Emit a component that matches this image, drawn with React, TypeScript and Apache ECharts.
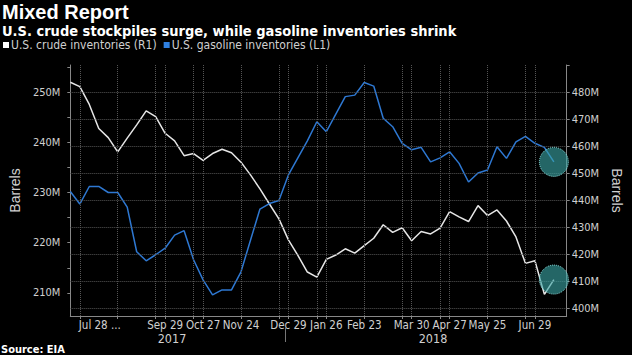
import React, { useEffect, useRef } from 'react';
import * as echarts from 'echarts';

// Weekly EIA report dates (Fridays)
const weeks = [
  '2017-07-21', '2017-07-28', '2017-08-04', '2017-08-11', '2017-08-18', '2017-08-25',
  '2017-09-01', '2017-09-08', '2017-09-15', '2017-09-22', '2017-09-29', '2017-10-06',
  '2017-10-13', '2017-10-20', '2017-10-27', '2017-11-03', '2017-11-10', '2017-11-17',
  '2017-11-24', '2017-12-01', '2017-12-08', '2017-12-15', '2017-12-22', '2017-12-29',
  '2018-01-05', '2018-01-12', '2018-01-19', '2018-01-26', '2018-02-02', '2018-02-09',
  '2018-02-16', '2018-02-23', '2018-03-02', '2018-03-09', '2018-03-16', '2018-03-23',
  '2018-03-30', '2018-04-06', '2018-04-13', '2018-04-20', '2018-04-27', '2018-05-04',
  '2018-05-11', '2018-05-18', '2018-05-25', '2018-06-01', '2018-06-08', '2018-06-15',
  '2018-06-22', '2018-06-29', '2018-07-06', '2018-07-13',
];

// U.S. crude inventories, million barrels (right axis, R1)
const crude = [
  483.7, 482.1, 475.5, 466.6, 463.2, 457.9, 463.0, 467.9, 473.1, 471.0,
  464.8, 462.0, 456.5, 457.3, 454.8, 457.3, 458.9, 457.6, 454.1, 449.4,
  444.2, 438.6, 433.1, 425.3, 419.6, 413.4, 411.5, 418.1, 419.7, 422.0,
  420.4, 423.2, 425.9, 430.9, 428.1, 429.8, 425.0, 428.4, 427.5, 429.7,
  435.8, 433.8, 432.1, 438.0, 434.3, 436.4, 432.3, 426.4, 416.6, 417.6,
  405.1, 410.6,
];

// U.S. gasoline inventories, million barrels (left axis, L1)
const gasoline = [
  230.2, 227.7, 231.2, 231.2, 230.0, 230.0, 227.1, 218.2, 216.4, 217.6,
  218.9, 221.5, 222.4, 216.6, 212.6, 209.6, 210.6, 210.6, 214.2, 220.5,
  226.7, 227.8, 228.4, 233.5, 236.9, 240.3, 244.1, 242.1, 245.6, 249.1,
  249.4, 251.9, 251.2, 244.8, 243.1, 239.8, 238.5, 239.0, 236.1, 236.9,
  238.1, 235.8, 232.1, 233.9, 234.5, 239.1, 236.8, 240.1, 241.2, 239.8,
  239.0, 236.1,
];

// X-axis tick labels
const tickDates = ['2017-07-28', '2017-09-29', '2017-10-27', '2017-11-24', '2017-12-29',
  '2018-01-26', '2018-02-23', '2018-03-30', '2018-04-27', '2018-05-25', '2018-06-29'];
const tickLabels = ['Jul 28 ...', 'Sep 29', 'Oct 27', 'Nov 24', 'Dec 29',
  'Jan 26', 'Feb 23', 'Mar 30', 'Apr 27', 'May 25', 'Jun 29'];

// Vertical grid line dates
const gridDates = ['2017-07-28', '2017-08-25', '2017-09-22', '2017-09-29', '2017-10-20',
  '2017-10-27', '2017-11-24', '2017-12-22', '2017-12-29', '2018-01-19', '2018-01-26',
  '2018-02-23', '2018-03-23', '2018-03-30', '2018-04-20', '2018-04-27', '2018-05-25',
  '2018-06-22', '2018-06-29'];

const leftTicks = [210, 220, 230, 240, 250];
const leftMinorTicks = [210, 215, 220, 225, 230, 235, 240, 245, 250, 255];
const rightTicks = [400, 410, 420, 430, 440, 450, 460, 470, 480];
const rightTickMarks = [400, 410, 420, 430, 440, 450, 460, 470, 480, 490];

const NARROW = "'Liberation Sans Narrow', 'Arial Narrow', 'DejaVu Sans Condensed', sans-serif";
const WIDE = "'Liberation Sans', Arial, sans-serif";

export default function App() {
  const ref = useRef<HTMLDivElement>(null);

  useEffect(() => {
    if (!ref.current) return;
    const chart = echarts.init(ref.current, undefined, { renderer: 'svg' });
    const last = weeks.length - 1;
    const tickIdx = tickDates.map((d) => weeks.indexOf(d));
    const gridIdx = gridDates.map((d) => weeks.indexOf(d));

    const circleStyle = {
      color: 'rgba(58,165,165,0.62)',
      borderColor: '#8fe3e3',
      borderType: 'dotted' as const,
      borderWidth: 1,
    };

    chart.setOption({
      animation: false,
      backgroundColor: '#000',
      title: [
        {
          text: 'Mixed Report', left: 2, top: 1, padding: 0,
          textStyle: { color: '#fff', fontSize: 20, lineHeight: 21, fontWeight: 'bold', fontFamily: WIDE },
        },
        {
          text: 'U.S. crude stockpiles surge, while gasoline inventories shrink', left: 2, top: 23, padding: 0,
          textStyle: { color: '#fff', fontSize: 14.5, lineHeight: 15, fontWeight: 'bold', fontFamily: NARROW },
        },
        {
          text: 'Source: EIA', left: 1, top: 344, padding: 0,
          textStyle: { color: '#fff', fontSize: 11, lineHeight: 11, fontWeight: 'bold', fontFamily: NARROW },
        },
      ],
      legend: {
        left: 3, top: 39, padding: 0, itemGap: 7, itemWidth: 6, itemHeight: 6,
        icon: 'rect',
        textStyle: { color: '#d0d0d0', fontSize: 12, fontFamily: NARROW, padding: [0, 0, 0, -3] },
        data: ['U.S. crude inventories (R1)', 'U.S. gasoline inventories (L1)'],
      },
      grid: { left: 49, right: 48, top: 65, bottom: 39, containLabel: false },
      xAxis: {
        type: 'value', min: 0, max: 52.35,
        axisLine: { show: true, lineStyle: { color: '#888' } },
        axisTick: { show: true, length: 3, customValues: gridIdx, lineStyle: { color: '#888' } },
        splitLine: { show: false },
        axisLabel: {
          customValues: tickIdx,
          margin: 3,
          color: '#d0d0d0', fontSize: 11.5, fontFamily: NARROW,
          formatter: (v: number) => {
            const k = tickIdx.indexOf(Math.round(v));
            if (k < 0) return '';
            return k === 0 ? `{first|${tickLabels[k]}}` : tickLabels[k];
          },
          rich: { first: { padding: [0, 0, 0, 40], color: '#d0d0d0', fontSize: 11.5, fontFamily: NARROW } },
        },
      },
      yAxis: [
        {
          type: 'value', position: 'left', min: 205.4, max: 255.4,
          name: 'Barrels', nameLocation: 'middle', nameGap: 40,
          nameTextStyle: { color: '#d0d0d0', fontSize: 14, fontFamily: WIDE },
          axisLine: { show: true, lineStyle: { color: '#888' } },
          axisTick: { show: true, length: 3, customValues: leftMinorTicks, lineStyle: { color: '#888' } },
          axisLabel: {
            customValues: leftTicks, margin: 10,
            color: '#d0d0d0', fontSize: 11, fontFamily: NARROW,
            formatter: (v: number) => `${v}M`,
          },
          splitLine: { show: false },
        },
        {
          type: 'value', position: 'right', min: 397.1, max: 490.1,
          name: 'Barrels', nameLocation: 'middle', nameGap: 42, nameRotate: -90,
          nameTextStyle: { color: '#d0d0d0', fontSize: 14, fontFamily: WIDE },
          axisLine: { show: true, lineStyle: { color: '#888' } },
          axisTick: { show: true, length: 3, customValues: rightTickMarks, lineStyle: { color: '#888' } },
          axisLabel: {
            customValues: rightTicks, margin: 5,
            color: '#d0d0d0', fontSize: 11, fontFamily: NARROW,
            formatter: (v: number) => `${v}M`,
          },
          splitLine: { show: false },
        },
      ],
      series: [
        {
          name: 'grid', type: 'line', yAxisIndex: 1, data: [], z: 1, silent: true,
          markLine: {
            silent: true, symbol: ['none', 'none'], label: { show: false },
            lineStyle: { color: '#555', type: 'dotted', width: 1 },
            emphasis: { disabled: true },
            data: [
              ...gridIdx.map((i) => ({ xAxis: i })),
              ...rightTicks.map((v) => ({ yAxis: v })),
            ],
          },
        },
        {
          name: 'U.S. crude inventories (R1)', type: 'line', yAxisIndex: 1, z: 3,
          data: crude.map((v, i) => [i, v]),
          showSymbol: false, symbol: 'none',
          itemStyle: { color: '#ffffff' },
          lineStyle: { color: '#e6e6e6', width: 1.5 },
          markPoint: {
            symbol: 'circle', symbolSize: 29, silent: true, label: { show: false },
            itemStyle: circleStyle,
            data: [{ coord: [last, crude[last]] }],
          },
        },
        {
          name: 'U.S. gasoline inventories (L1)', type: 'line', yAxisIndex: 0, z: 3,
          data: gasoline.map((v, i) => [i, v]),
          showSymbol: false, symbol: 'none',
          itemStyle: { color: '#2f80e0' },
          lineStyle: { color: '#2e78d2', width: 1.5 },
          markPoint: {
            symbol: 'circle', symbolSize: 29, silent: true, label: { show: false },
            itemStyle: circleStyle,
            data: [{ coord: [last, gasoline[last]] }],
          },
        },
      ],
      graphic: [
        {
          type: 'text', x: 172, y: 338,
          style: { text: '2017', fill: '#d0d0d0', fontSize: 12.5, fontFamily: NARROW, align: 'center', verticalAlign: 'middle' },
        },
        {
          type: 'text', x: 433, y: 338,
          style: { text: '2018', fill: '#d0d0d0', fontSize: 12.5, fontFamily: NARROW, align: 'center', verticalAlign: 'middle' },
        },
        {
          type: 'line', shape: { x1: 285.5, y1: 328, x2: 285.5, y2: 342 },
          style: { stroke: '#777', lineWidth: 1 },
        },
      ],
    });

    return () => chart.dispose();
  }, []);

  return (
    <div
      ref={ref}
      style={{ position: 'fixed', left: 0, top: 0, width: 632, height: 355, background: '#000' }}
    />
  );
}
